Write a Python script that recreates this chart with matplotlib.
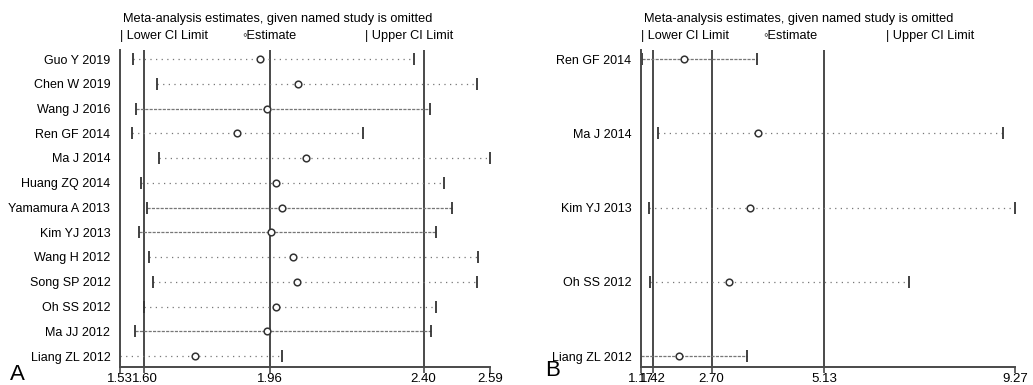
import matplotlib
matplotlib.use("Agg")
import matplotlib.pyplot as plt

plt.rcParams["font.family"] = ["Liberation Sans", "DejaVu Sans"]

# panel A: each study omitted in turn
studies_a = ["Guo Y 2019", "Chen W 2019", "Wang J 2016", "Ren GF 2014", "Ma J 2014",
             "Huang ZQ 2014", "Yamamura A 2013", "Kim YJ 2013", "Wang H 2012",
             "Song SP 2012", "Oh SS 2012", "Ma JJ 2012", "Liang ZL 2012"]
lower_a = [1.567, 1.636, 1.576, 1.563, 1.643, 1.590, 1.608, 1.585, 1.613, 1.625, 1.600, 1.573, 1.53]
est_a = [1.93, 2.041, 1.95, 1.866, 2.063, 1.977, 1.993, 1.963, 2.027, 2.036, 1.978, 1.950, 1.745]
upper_a = [2.372, 2.553, 2.418, 2.226, 2.59, 2.458, 2.481, 2.435, 2.556, 2.553, 2.436, 2.420, 1.995]
dense_a = [False, False, True, False, False, False, True, True, False, False, False, True, False]
ref_a = [1.60, 1.96, 2.40]
ticks_a = [1.53, 1.60, 1.96, 2.40, 2.59]

# panel B
studies_b = ["Ren GF 2014", "Ma J 2014", "Kim YJ 2013", "Oh SS 2012", "Liang ZL 2012"]
lower_b = [1.19, 1.54, 1.34, 1.37, 1.17]
est_b = [2.10, 3.71, 3.52, 3.08, 2.0]
upper_b = [3.69, 9.02, 9.27, 6.97, 3.47]
dense_b = [True, False, False, False, True]
ref_b = [1.42, 2.70, 5.13]
ticks_b = [1.17, 1.42, 2.70, 5.13, 9.27]

W, H = 1033, 385
fig = plt.figure(figsize=(W / 100, H / 100), dpi=100)
grey = "#4a4a4a"
TOP, BOTTOM = 50, 367


def px(x, y):
    return x / W, 1 - y / H


def panel(x0, x1, studies, lower, est, upper, dense, refs, ticks, ymargins, letter, letter_xy):
    ax = fig.add_axes([x0 / W, (H - BOTTOM) / H, (x1 - x0) / W, (BOTTOM - TOP) / H])
    n = len(studies)
    for i in range(n):
        ls = (0, (2.5, 1.0)) if dense[i] else (0, (1.0, 3.5))
        ax.plot([lower[i], upper[i]], [i, i], color="#777777", lw=0.9, linestyle=ls)
        ax.plot([lower[i], upper[i]], [i, i], linestyle="none", marker="|",
                color="#333333", ms=8, mew=1.3)
        ax.plot(est[i], i, marker="o", mfc="white", mec="#333333", ms=4.8, mew=1.1)
    for r in refs:
        ax.axvline(r, color=grey, lw=1.4, zorder=0)
    ax.set_xlim(ticks[0], ticks[-1])
    ax.set_ylim(n - 1 + ymargins[1], -ymargins[0])
    ax.set_yticks(range(n))
    ax.set_yticklabels(studies, fontsize=9)
    ax.tick_params(axis="y", length=0, pad=7)
    ax.set_xticks(ticks)
    ax.set_xticklabels([f"{t:.2f}" for t in ticks], fontsize=9.5)
    ax.tick_params(axis="x", length=4, pad=0, color=grey, width=1.2)
    for s in ["top", "right"]:
        ax.spines[s].set_visible(False)
    for s in ["left", "bottom"]:
        ax.spines[s].set_color(grey)
        ax.spines[s].set_linewidth(1.4)
    fig.text(*px(x0 + 3, 19), "Meta-analysis estimates, given named study is omitted",
             fontsize=9.2, va="center", ha="left")
    fig.text(*px(x0, 36), "| Lower CI Limit", fontsize=9.2, va="center", ha="left")
    fig.text(*px(x0 + 122, 36), "\u25e6Estimate", fontsize=9.2, va="center", ha="left")
    fig.text(*px(x0 + 245, 36), "| Upper CI Limit", fontsize=9.2, va="center", ha="left")
    fig.text(*px(*letter_xy), letter, fontsize=16, va="center", ha="left")
    return ax


# row centres: first at y=59, last at y=356 in both panels
panel(120, 490, studies_a, lower_a, est_a, upper_a, dense_a, ref_a, ticks_a,
      (9 / 24.75, 11 / 24.75), "A", (10, 374))
panel(641, 1015, studies_b, lower_b, est_b, upper_b, dense_b, ref_b, ticks_b,
      (9 / 74.25, 11 / 74.25), "B", (545, 371))

fig.savefig("out.png", dpi=100)
